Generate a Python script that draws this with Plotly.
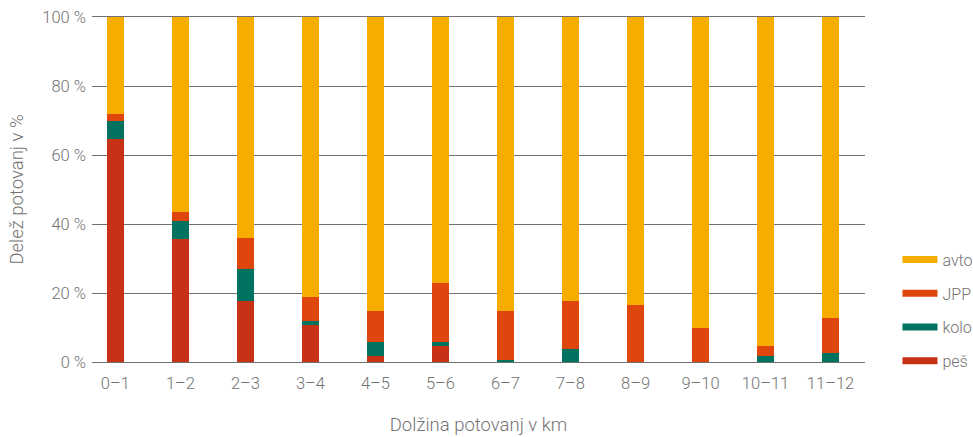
import plotly.graph_objects as go

categories = ["0–1", "1–2", "2–3", "3–4", "4–5", "5–6", "6–7", "7–8", "8–9", "9–10", "10–11", "11–12"]
pes = [64.7, 35.7, 17.7, 10.7, 1.7, 4.6, 0, 0, 0, 0, 0, 0]
kolo = [5.2, 5.2, 9.3, 1.2, 4.1, 1.2, 0.6, 3.8, 0, 0, 1.7, 2.6]
jpp = [2.1, 2.6, 9.0, 6.9, 9.0, 17.1, 14.2, 13.9, 16.5, 9.9, 2.9, 10.2]
avto = [round(100 - a - b - c, 1) for a, b, c in zip(pes, kolo, jpp)]
y_ticks = [0, 20, 40, 60, 80, 100]
y_tick_labels = ["0 %", "20 %", "40 %", "60 %", "80 %", "100 %"]

series = [
    ("peš", pes, "#C73216"),
    ("kolo", kolo, "#007360"),
    ("JPP", jpp, "#DF460D"),
    ("avto", avto, "#F7AC00"),
]

font_family = "Roboto"
grey = "#737373"
line_grey = "#707070"

fig = go.Figure()
for name, vals, col in series:
    fig.add_trace(go.Bar(
        x=categories, y=vals, name=name, marker=dict(color=col, line=dict(width=0)),
        width=0.26, showlegend=False,
    ))

# legend entries drawn as wide swatches
for i, (name, vals, col) in enumerate(reversed(series)):
    fig.add_trace(go.Scatter(
        x=[None], y=[None], mode="lines", name=name,
        line=dict(color=col, width=7), legendgroup=f"g{i}", showlegend=True,
    ))

fig.update_layout(
    width=973, height=437,
    margin=dict(l=92, r=108, t=17, b=75, autoexpand=False),
    barmode="stack",
    plot_bgcolor="white", paper_bgcolor="white",
    font=dict(family=font_family, size=16, color=grey, weight=300),
    legend=dict(
        x=1.042, xanchor="left", y=-0.048, yanchor="bottom",
        font=dict(size=16, color=grey, weight=300),
        tracegroupgap=10, itemwidth=35,
        bgcolor="rgba(0,0,0,0)",
    ),
    xaxis=dict(
        type="category", range=[-0.36, 11.53], automargin=False,
        showgrid=False, showline=True, mirror=True, linecolor=line_grey, linewidth=1.2,
        zeroline=False,
        ticks="", ticklabelstandoff=6,
        tickfont=dict(size=16.5, color=grey, weight=300),
        title=dict(text="Dolžina potovanj v km", standoff=26,
                   font=dict(size=18.5, color=grey, weight=300)),
    ),
    yaxis=dict(
        range=[0, 100], tickmode="array", tickvals=y_ticks, ticktext=y_tick_labels,
        automargin=False, ticklabeloverflow="allow",
        showgrid=True, gridcolor=line_grey, gridwidth=1.2,
        zeroline=False, showline=False,
        ticks="", ticklabelstandoff=5,
        tickfont=dict(size=16.5, color=grey, weight=300),
        title=dict(text="Delež potovanj v %", standoff=13,
                   font=dict(size=18.5, color=grey, weight=300)),
    ),
)

# remove the browser's default 8px page margin so the figure fills the window exactly
fig.write_html("out.html", config={"displayModeBar": False},
               post_script="document.body.style.margin='0';")
